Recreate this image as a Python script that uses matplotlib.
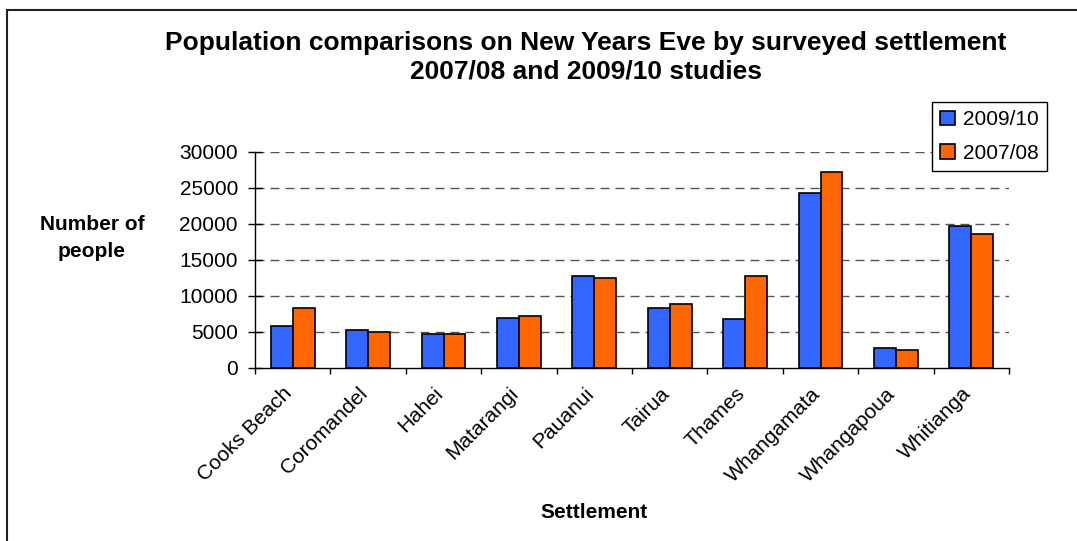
import numpy as np
import matplotlib.pyplot as plt
import matplotlib.transforms as mtransforms
from matplotlib.patches import Rectangle

# Values
settlements = ['Cooks Beach', 'Coromandel', 'Hahei', 'Matarangi', 'Pauanui',
               'Tairua', 'Thames', 'Whangamata', 'Whangapoua', 'Whitianga']
pop_2009_10 = [5800, 5200, 4700, 6900, 12800, 8300, 6700, 24200, 2800, 19700]
pop_2007_08 = [8300, 5000, 4700, 7200, 12500, 8900, 12800, 27200, 2500, 18600]
y_ticks = [0, 5000, 10000, 15000, 20000, 25000, 30000]

plt.rcParams['font.family'] = ['Liberation Sans', 'DejaVu Sans']

fig = plt.figure(figsize=(10.77, 5.41), dpi=100)
ax = fig.add_axes([255 / 1077, 1 - 367.7 / 541, (1009 - 255) / 1077, (367.7 - 151.7) / 541])

x = np.arange(len(settlements))
w = 0.29
ax.bar(x - w / 2, pop_2009_10, w, color='#3366FF', edgecolor='black', linewidth=1.2,
       label='2009/10', zorder=3)
ax.bar(x + w / 2, pop_2007_08, w, color='#FF6600', edgecolor='black', linewidth=1.2,
       label='2007/08', zorder=3)

ax.set_xlim(-0.5, len(settlements) - 0.5)
ax.set_ylim(0, 30000)
ax.set_yticks(y_ticks)
ax.set_yticklabels([str(v) for v in y_ticks], fontsize=15)
ax.set_xticks(x)
ax.set_xticklabels(settlements, fontsize=15, rotation=45, ha='right', rotation_mode='anchor')
ax.set_xticks(np.arange(len(settlements) + 1) - 0.5, minor=True)
ax.tick_params(axis='x', which='major', length=0, pad=6)
ax.tick_params(axis='x', which='minor', length=4.5, direction='out', width=1)
ax.tick_params(axis='y', length=9.5, direction='inout', width=1, pad=7.5)

# nudge the rotated labels down-left like the original
shift = mtransforms.ScaledTranslation(-10 / 100, -8 / 100, fig.dpi_scale_trans)
for lbl in ax.get_xticklabels():
    lbl.set_transform(lbl.get_transform() + shift)

for s in ['top', 'right']:
    ax.spines[s].set_visible(False)
for s in ['left', 'bottom']:
    ax.spines[s].set_linewidth(1)

for v in y_ticks[1:]:
    ax.axhline(v, color='#555555', linewidth=1, dashes=(6.5, 4.3), zorder=1)

leg = ax.legend(loc='upper right', bbox_to_anchor=(1047 / 1077, 1 - 102 / 541),
                bbox_transform=fig.transFigure, borderaxespad=0, fontsize=15,
                fancybox=False, framealpha=1, edgecolor='black',
                handlelength=0.7, handleheight=0.7, handletextpad=0.4,
                borderpad=0.4, labelspacing=0.7)
leg.get_frame().set_linewidth(1)

fig.text(586 / 1077, 1 - 57 / 541,
         'Population comparisons on New Years Eve by surveyed settlement\n2007/08 and 2009/10 studies',
         ha='center', va='center', fontsize=19, fontweight='bold', linespacing=1.25)
fig.text(92 / 1077, 1 - 238 / 541, 'Number of\npeople', ha='center', va='center',
         fontsize=15, fontweight='bold', linespacing=1.5)
fig.text(594 / 1077, 1 - 512 / 541, 'Settlement', ha='center', va='center',
         fontsize=15, fontweight='bold')

fig.add_artist(Rectangle((7 / 1077, -0.1), 1.2, 1.1 - 10 / 541, transform=fig.transFigure,
                         fill=False, edgecolor='#222222', linewidth=1.5))

fig.savefig('out.png', dpi=100)
